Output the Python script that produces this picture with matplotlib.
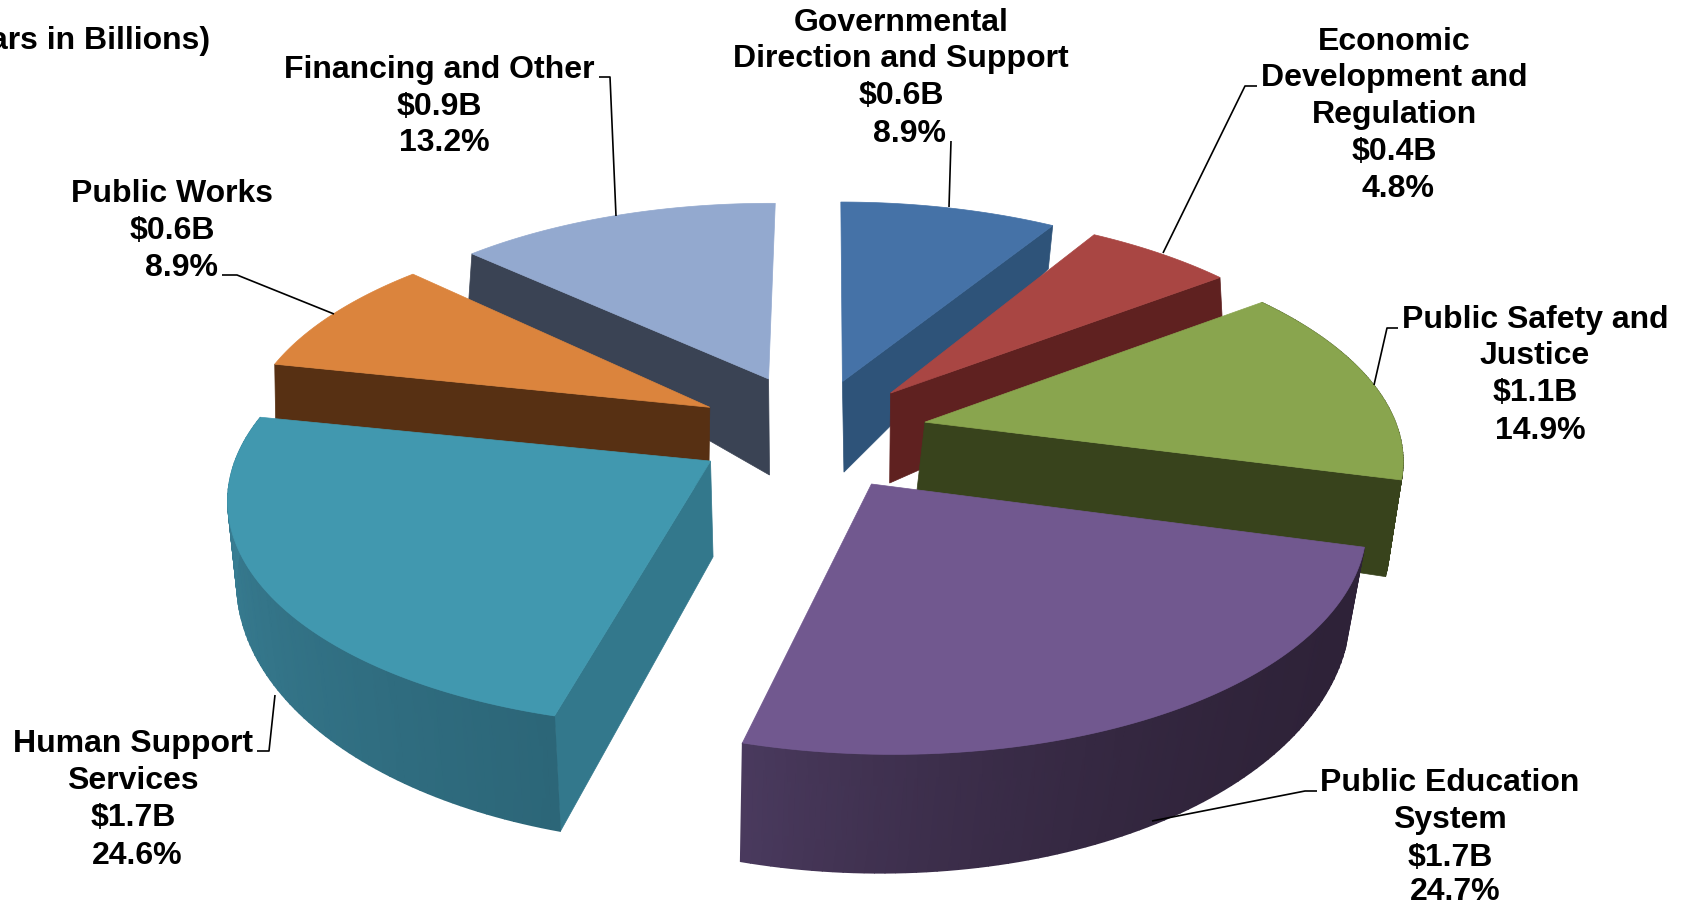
import numpy as np
import matplotlib
matplotlib.use("Agg")
import matplotlib.pyplot as plt
from matplotlib.colors import LinearSegmentedColormap

plt.rcParams['font.family'] = ['Liberation Sans', 'DejaVu Sans']

# slices, clockwise from 12 o'clock
names = ["Governmental\nDirection and Support", "Economic\nDevelopment and\nRegulation",
         "Public Safety and\nJustice", "Public Education\nSystem", "Human Support\nServices",
         "Public Works", "Financing and Other"]
billions = [0.6, 0.4, 1.1, 1.7, 1.7, 0.6, 0.9]
percents = [8.9, 4.8, 14.9, 24.7, 24.6, 8.9, 13.2]
title_piece = "ars in Billions)"

top_colors = ["#4572a7", "#a94643", "#89a54e", "#71588f", "#4198af", "#db843d", "#93a9cf"]
cut_colors = ["#2e5379", "#5f2120", "#38431c", "#2f2339", "#33788c", "#573013", "#3a4354"]
wall_right = {2: "#38431c", 3: "#2e2238", 4: "#2c6678"}
wall_left = {2: "#38431c", 3: "#4a3a5e", 4: "#3b8399"}
wall_power = {2: 1, 3: 2.5, 4: 1}

# draw order, back to front, and which cut face of each slice shows (0 start, -1 end, None neither)
draw_order = [0, 6, 1, 5, 2, 4, 3]
visible_cut = [-1, -1, -1, None, 0, 0, 0]

# small corrections, the picture's perspective is not a clean one
# angle (start, end) in degrees for the top and bottom rims
top_nudge = [(-1.2, -2), (-2, 2), (2, 0), (0, 1), (0.5, 0), (0, 0), (0, -0.5)]
bottom_nudge = [(0, -4), (-2, 1.5), (2, 0), (0, 0), (1, 0), (0, 0), (0, 0)]
# apex shift in pixels
top_apex_shift = {1: (4, 0), 4: (8, -3), 5: (8, 0), 6: (6, -4)}
bottom_apex_shift = {0: (4, 11), 1: (9, 9), 4: (4, 7), 6: (4, 13)}

# perspective of the pie's top and bottom faces (fitted by eye to the reference)
top_view = np.array([[454.398, 123.643, 806.884], [0.937818, -157.814, 433.715], [-0.0150633, 0.137318, 1]])
bottom_view = np.array([[456.925, 105.512, 805.69], [5.58085, -198.594, 517.753], [-0.0122883, 0.108655, 1]])
top_explode = 0.26
bottom_explode = 0.24

# label lines: (center x, center y) per line, then where the leader runs
label_spots = [
    [(901, 23), (901, 59), (901, 96), (910, 134)],
    [(1394, 42), (1394, 78), (1394, 115), (1394, 152), (1398, 189)],
    [(1535, 320), (1535, 356), (1535, 393), (1540, 431)],
    [(1450, 783), (1450, 820), (1450, 858), (1455, 892)],
    [(133, 744), (133, 781), (133, 818), (137, 856)],
    [(172, 194), (172, 231), (181, 268)],
    [(439, 70), (439, 107), (444, 143)],
]
leaders = [
    [(951, 141), (949, 207)],
    [(1257, 86), (1245, 86), (1163, 253)],
    [(1398, 328), (1387, 328), (1374, 385)],
    [(1317, 791), (1305, 791), (1152, 821)],
    [(257, 751), (269, 751), (275, 695)],
    [(222, 275), (237, 275), (334, 314)],
    [(599, 77), (610, 77), (616, 216)],
]

edges = np.concatenate([[0], np.cumsum(percents)]) / sum(percents) * 360
mids = (edges[:-1] + edges[1:]) / 2


def project(view, u, v):
    p = view @ np.array([u, v, np.ones_like(u)])
    return p[0] / p[2], p[1] / p[2]


def slice_face(view, explode, i, angles, shift):
    # apex of the pulled out slice, and its rim at the given angles
    m = np.radians(mids[i])
    a = np.radians(angles)
    apex = project(view, np.array([explode * np.sin(m)]), np.array([explode * np.cos(m)]))
    rim = project(view, explode * np.sin(m) + np.sin(a), explode * np.cos(m) + np.cos(a))
    dx, dy = shift.get(i, (0, 0))
    return apex[0][0] + dx, apex[1][0] + dy, rim[0], rim[1]


fig = plt.figure(figsize=(16.86, 9.05), dpi=100)
ax = fig.add_axes([0, 0, 1, 1])
ax.set_xlim(0, 1686)
ax.set_ylim(905, 0)
ax.axis("off")

for i in draw_order:
    top_angles = np.linspace(edges[i] + top_nudge[i][0], edges[i + 1] + top_nudge[i][1], 81)
    bottom_angles = np.linspace(edges[i] + bottom_nudge[i][0], edges[i + 1] + bottom_nudge[i][1], 81)
    tx0, ty0, tx, ty = slice_face(top_view, top_explode, i, top_angles, top_apex_shift)
    bx0, by0, bx, by = slice_face(bottom_view, bottom_explode, i, bottom_angles, bottom_apex_shift)

    # the cut face that can be seen
    k = visible_cut[i]
    if k is not None:
        ax.fill([tx0, tx[k], bx[k], bx0], [ty0, ty[k], by[k], by0], color=cut_colors[i], lw=0.5)

    # outer wall with its soft shading, only the front slices show one
    if i in wall_right:
        cmap = LinearSegmentedColormap.from_list("wall", [wall_right[i], wall_left[i]])
        shade = np.linspace(0, 1, len(tx)) ** wall_power[i]
        ax.pcolormesh(np.array([tx, bx]), np.array([ty, by]), np.array([shade, shade]),
                      cmap=cmap, vmin=0, vmax=1, shading="gouraud")

    # top
    ax.fill(np.r_[tx0, tx], np.r_[ty0, ty], color=top_colors[i], lw=0.5)

# leader lines
for pts in leaders:
    xs, ys = zip(*pts)
    ax.plot(xs, ys, color="black", lw=1.2, solid_capstyle="butt")

# labels
for i in range(len(names)):
    lines = names[i].split("\n") + ["$%.1fB" % billions[i], "%.1f%%" % percents[i]]
    for line, (x, y) in zip(lines, label_spots[i]):
        ax.text(x, y, line.replace("$", r"\$"), ha="center", va="center", fontsize=23, fontweight="bold")

ax.text(210, 41, title_piece, ha="right", va="center", fontsize=23, fontweight="bold")

fig.savefig("out.png", dpi=100)
